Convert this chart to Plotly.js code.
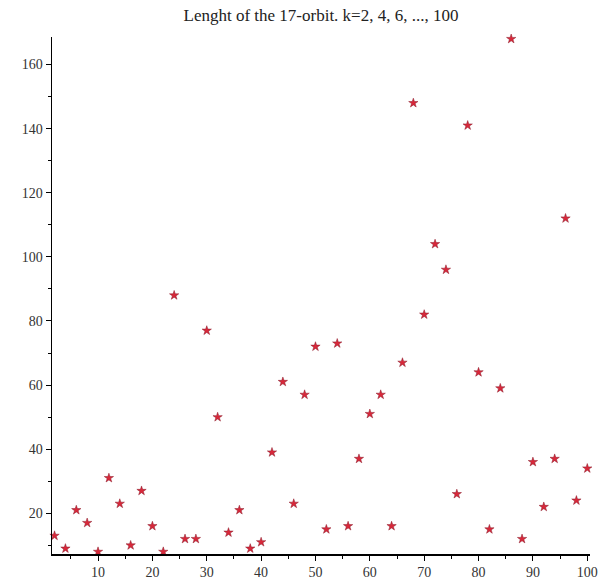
<!DOCTYPE html>
<html>
<head>
<meta charset="utf-8">
<script src="https://cdn.plot.ly/plotly-3.0.1.min.js"></script>
<style>html,body{margin:0;padding:0;background:#fff;}#chart{width:604px;height:586px;}</style>
</head>
<body>
<div id="chart"></div>
<script>
const kValues = [2,4,6,8,10,12,14,16,18,20,22,24,26,28,30,32,34,36,38,40,42,44,46,48,50,52,54,56,58,60,62,64,66,68,70,72,74,76,78,80,82,84,86,88,90,92,94,96,98,100];
const orbitLengths = [13,9,21,17,8,31,23,10,27,16,8,88,12,12,77,50,14,21,9,11,39,61,23,57,72,15,73,16,37,51,57,16,67,148,82,104,96,26,141,64,15,59,168,12,36,22,37,112,24,34];
const xTicks = [10,20,30,40,50,60,70,80,90,100];
const yTicks = [20,40,60,80,100,120,140,160];

const trace = {
  x: kValues,
  y: orbitLengths,
  type: 'scatter',
  mode: 'markers',
  cliponaxis: false,
  marker: {symbol: 'star', size: 7, color: '#d8283a', line: {width: 0.5, color: '#8a1a2a'}},
  hoverinfo: 'x+y'
};

const tickFont = {family: '"Liberation Serif", "DejaVu Serif", serif', size: 14, color: '#333'};

const layout = {
  width: 604, height: 586,
  margin: {l: 52, r: 14, t: 37, b: 32},
  paper_bgcolor: '#fff', plot_bgcolor: '#fff',
  showlegend: false,
  title: {
    text: 'Lenght of the 17-orbit. k=2, 4, 6, ..., 100',
    font: {family: '"Liberation Serif", "DejaVu Serif", serif', size: 17, color: '#222'},
    x: 0.5, xref: 'paper', y: 0.975, yanchor: 'middle'
  },
  xaxis: {
    range: [1.53, 100.5],
    tickvals: xTicks, ticktext: xTicks.map(String),
    ticks: 'outside', ticklen: 5, tickwidth: 1, tickcolor: '#000',
    showline: true, linecolor: '#000', linewidth: 1.5,
    showgrid: false, zeroline: false,
    tickfont: tickFont,
    minor: {dtick: 5, tick0: 0, ticks: 'outside', ticklen: 3, tickcolor: '#000', showgrid: false}
  },
  yaxis: {
    range: [7.3, 168.6],
    tickvals: yTicks, ticktext: yTicks.map(String),
    ticks: 'outside', ticklen: 5, tickwidth: 1, tickcolor: '#000',
    showline: true, linecolor: '#000', linewidth: 1.5,
    showgrid: false, zeroline: false,
    tickfont: tickFont,
    minor: {dtick: 10, tick0: 0, ticks: 'outside', ticklen: 3, tickcolor: '#000', showgrid: false}
  }
};

Plotly.newPlot('chart', [trace], layout, {displayModeBar: false, staticPlot: true});
</script>
</body>
</html>
